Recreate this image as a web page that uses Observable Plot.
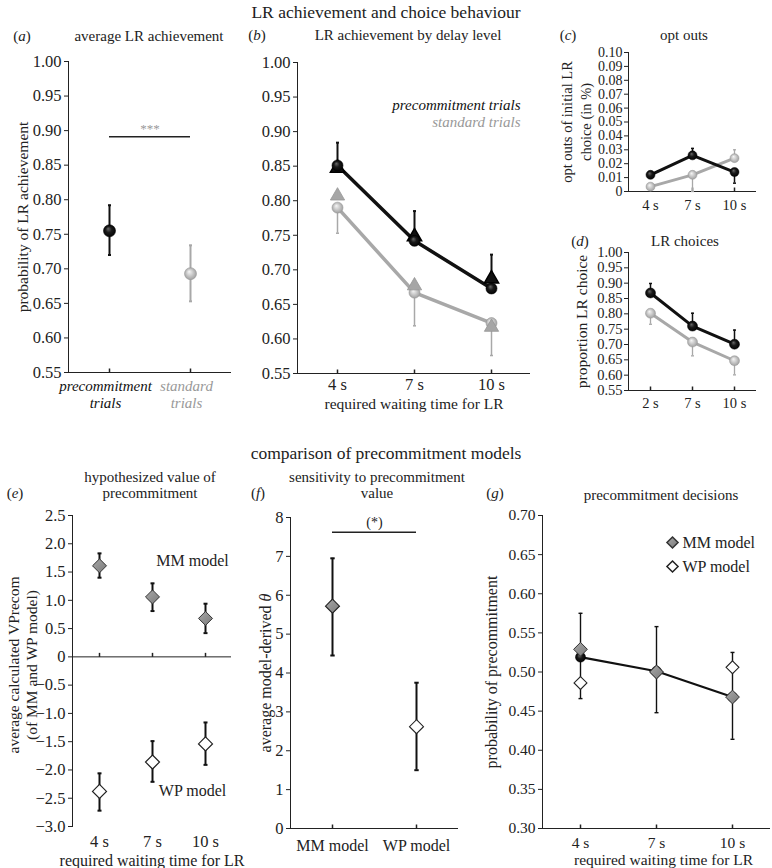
<!DOCTYPE html>
<html><head><meta charset="utf-8">
<script src="https://cdn.jsdelivr.net/npm/d3@7"></script>
<script src="https://cdn.jsdelivr.net/npm/@observablehq/plot@0.6"></script>
<style>
body{margin:0;background:#fff;}
#fig{position:relative;width:772px;height:868px;font-family:"Liberation Serif","Times New Roman",serif;color:#222;overflow:hidden;background:#fff;}
#fig svg{font-family:"Liberation Serif","Times New Roman",serif;overflow:visible;background:transparent;}
#fig svg text, #fig svg tspan{font-family:"Liberation Serif","Times New Roman",serif !important;}
.t{position:absolute;white-space:nowrap;transform:translate(-50%,-50%);line-height:16px;text-align:center;}
</style></head><body>
<svg width="0" height="0" style="position:absolute">
<defs>
<radialGradient id="ballBlack" cx="0.5" cy="0.5" r="0.55" fx="0.38" fy="0.32">
<stop offset="0" stop-color="#6a6a6a"/><stop offset="0.45" stop-color="#1a1a1a"/><stop offset="1" stop-color="#000"/>
</radialGradient>
<radialGradient id="ballGray" cx="0.5" cy="0.5" r="0.55" fx="0.38" fy="0.32">
<stop offset="0" stop-color="#f6f6f6"/><stop offset="0.5" stop-color="#c9c9c9"/><stop offset="1" stop-color="#9a9a9a"/>
</radialGradient>
<linearGradient id="diaGray" x1="0" y1="0" x2="1" y2="1">
<stop offset="0" stop-color="#a8a8a8"/><stop offset="1" stop-color="#7a7a7a"/>
</linearGradient>
</defs></svg>
<div id="fig"></div>
<script>
// ---------------- DATA ----------------
// (a) average LR achievement
const aTrials = ["precommitment", "standard"];
const aTrialLabels = ["precommitment\ntrials", "standard\ntrials"];
const aMean = [0.755, 0.693];
const aLow = [0.720, 0.653];
const aHigh = [0.792, 0.734];
const aSig = 0.891;
const aTicks = [0.55, 0.60, 0.65, 0.70, 0.75, 0.80, 0.85, 0.90, 0.95, 1.00];

// (b) LR achievement by delay level
const delays = ["4 s", "7 s", "10 s"];
const bPreCircle = [0.851, 0.742, 0.673];
const bPreTriangle = [0.847, 0.748, 0.687];
const bPreErrTop = [0.884, 0.785, 0.722];
const bStdCircle = [0.790, 0.667, 0.623];
const bStdTriangle = [0.807, 0.677, 0.617];
const bStdErrBottom = [0.753, 0.619, 0.576];

// (c) opt outs
const cTicks = [0, 0.01, 0.02, 0.03, 0.04, 0.05, 0.06, 0.07, 0.08, 0.09, 0.10];
const cPre = [0.012, 0.026, 0.014];
const cPreErrEnd = [0.012, 0.031, 0.006];
const cStd = [0.0035, 0.012, 0.024];
const cStdErrEnd = [0.0035, 0.000, 0.030];

// (d) LR choices
const dDelays = ["2 s", "7 s", "10 s"];
const dPre = [0.868, 0.760, 0.701];
const dPreErrTop = [0.899, 0.802, 0.747];
const dStd = [0.802, 0.708, 0.647];
const dStdErrBottom = [0.766, 0.663, 0.601];

// (e) hypothesized value of precommitment
const eTicks = [2.5, 2.0, 1.5, 1.0, 0.5, 0, -0.5, -1.0, -1.5, -2.0, -2.5, -3.0];
const eMM = [1.61, 1.06, 0.68];
const eMMLow = [1.40, 0.81, 0.42];
const eMMHigh = [1.83, 1.30, 0.94];
const eWP = [-2.38, -1.86, -1.54];
const eWPLow = [-2.72, -2.21, -1.91];
const eWPHigh = [-2.06, -1.49, -1.16];

// (f) sensitivity to precommitment value
const fModels = ["MM model", "WP model"];
const fTicks = [0, 1, 2, 3, 4, 5, 6, 7, 8];
const fMean = [5.72, 2.62];
const fLow = [4.45, 1.50];
const fHigh = [6.95, 3.75];
const fSig = 7.62;

// (g) precommitment decisions
const gTicks = [0.30, 0.35, 0.40, 0.45, 0.50, 0.55, 0.60, 0.65, 0.70];
const gObserved = [0.519, 0.501, 0.468];
const gLow = [0.466, 0.448, 0.414];
const gHigh = [0.575, 0.558, 0.525];
const gMM = [0.529, 0.500, 0.468];
const gWP = [0.486, 0.500, 0.506];

// ---------------- STYLE ----------------
const FONT = "Liberation Serif";
const INK = "#222";
const BLACK = "#111";
const GRAY = "#a8a8a8";
const GRAYTXT = "#999";
const BALL_BLACK = "url(#ballBlack)";
const BALL_GRAY = "url(#ballGray)";
const MMFILL = "url(#diaGray)";
const UP_TICK = {draw(ctx) { ctx.moveTo(0, 0); ctx.lineTo(0, -4); }};
const capSym = w => ({draw(ctx) { ctx.moveTo(-w, 0); ctx.lineTo(w, 0); }});

const fig = document.getElementById("fig");
function mount(b, node) {
  node.style.position = "absolute";
  node.style.left = b.left + "px";
  node.style.top = b.top + "px";
  node.style.fontFamily = FONT;
  node.style.fontSize = b.font + "px";
  node.style.color = INK;
  node.style.overflow = "visible";
  node.setAttribute("font-family", FONT);
  node.setAttribute("font-size", b.font);
  fig.appendChild(node);
}
function label(html, x, y, size = 15, color) {
  const d = document.createElement("div");
  d.className = "t";
  d.innerHTML = html;
  d.style.left = x + "px";
  d.style.top = y + "px";
  d.style.fontSize = size + "px";
  if (color) d.style.color = color;
  fig.appendChild(d);
}
function base(b, xDomain, yDomain) {
  return {
    width: b.width, height: b.height,
    marginLeft: b.x0 - b.left, marginRight: b.left + b.width - b.x1,
    marginTop: b.y0 - b.top, marginBottom: b.top + b.height - b.y1,
    x: {type: "point", domain: xDomain, padding: 0.5, axis: null},
    y: {domain: yDomain, axis: null}
  };
}
// free-standing text placed relative to the frame
function note(str, o) {
  return Plot.text([str], {text: d => d, textAnchor: "middle", lineAnchor: "middle", fontFamily: FONT, ...o});
}
function yAxis(ticks, tickFormat, pad = 3) {
  return Plot.axisY({ticks, tickFormat, tickSize: 4, tickPadding: pad, label: null, fontFamily: FONT});
}
function xAxis(pad, extra = {}) {
  return Plot.axisX({tickSize: 0, tickPadding: pad, label: null, fontFamily: FONT, ...extra});
}
// error bar from y1 to y2 with a cap at y2
function errBars(rows, x, y1, y2, stroke, w, cap) {
  return [
    Plot.ruleX(rows, {x, y1, y2, stroke, strokeWidth: w}),
    Plot.dot(rows, {x, y: y2, symbol: capSym(cap), stroke, strokeWidth: w, fill: "none"})
  ];
}
function capAt(rows, x, y, stroke, w, cap) {
  return Plot.dot(rows, {x, y, symbol: capSym(cap), stroke, strokeWidth: w, fill: "none"});
}
const fmt2 = d3.format(".2f");
const fmt1 = d3.format(".1f");

// ---------------- (a) ----------------
const A = {left: 0, top: 45, width: 245, height: 370, x0: 68, x1: 231, y0: 61, y1: 372, font: 16.5};
const aRows = aTrials.map((trial, i) => ({trial, mean: aMean[i], low: aLow[i], high: aHigh[i]}));
const aInk = d => d.trial === aTrials[0] ? BLACK : GRAY;
mount(A, Plot.plot({...base(A, aTrials, [0.55, 1.00]), marks: [
  Plot.frame({anchor: "left", stroke: INK}),
  Plot.ruleY([0.55], {stroke: INK}),
  yAxis(aTicks, fmt2),
  Plot.dot(aTrials, {x: d => d, y: 0.55, symbol: UP_TICK, stroke: INK, fill: "none"}),
  Plot.text(aTrials, {x: d => d, text: (d, i) => aTrialLabels[i], frameAnchor: "bottom", dy: 6, dx: -4, textAnchor: "middle",
    lineAnchor: "top", lineHeight: 1.15, fontStyle: "italic", fontSize: 15, fontFamily: FONT,
    fill: d => d === aTrials[0] ? BLACK : GRAYTXT}),
  Plot.ruleX(aRows, {x: "trial", y1: "low", y2: "high", stroke: aInk, strokeWidth: 2}),
  capAt(aRows, "trial", "low", aInk, 2, 1.5),
  capAt(aRows, "trial", "high", aInk, 2, 1.5),
  Plot.dot(aRows, {x: "trial", y: "mean", r: 6, fill: d => d.trial === aTrials[0] ? BALL_BLACK : BALL_GRAY,
    stroke: d => d.trial === aTrials[0] ? "#000" : "#999", strokeWidth: 0.6}),
  Plot.ruleY([aSig], {x1: () => aTrials[0], x2: () => aTrials[1], stroke: INK, strokeWidth: 1.5}),
  note("***", {frameAnchor: "middle", y: aSig, dy: -8, fill: GRAYTXT, fontSize: 13}),
  note("probability of LR achievement", {frameAnchor: "left", dx: -45, rotate: -90, fontSize: 15.5})
]}));

// ---------------- (b) ----------------
const B = {left: 245, top: 45, width: 290, height: 370, x0: 297, x1: 530, y0: 62, y1: 373, font: 16.5};
const bRows = delays.map((delay, i) => ({delay, preC: bPreCircle[i], preT: bPreTriangle[i], preE: bPreErrTop[i],
  stdC: bStdCircle[i], stdT: bStdTriangle[i], stdE: bStdErrBottom[i]}));
mount(B, Plot.plot({...base(B, delays, [0.55, 1.00]), marks: [
  Plot.frame({anchor: "left", stroke: INK}),
  Plot.ruleY([0.55], {stroke: INK}),
  yAxis(aTicks, fmt2),
  Plot.dot(delays, {x: d => d, y: 0.55, symbol: UP_TICK, stroke: INK, fill: "none"}),
  xAxis(5),
  note("required waiting time for LR", {frameAnchor: "bottom", dy: 31, fontSize: 15.5}),
  Plot.line(bRows, {x: "delay", y: "stdC", stroke: GRAY, strokeWidth: 3.5}),
  ...errBars(bRows, "delay", "stdC", "stdE", GRAY, 1.5, 1.5),
  Plot.dot(bRows, {x: "delay", y: "stdC", r: 5.5, fill: BALL_GRAY, stroke: "#999", strokeWidth: 0.6}),
  Plot.dot(bRows, {x: "delay", y: "stdT", r: 5.3, symbol: "triangle", fill: "#a6a6a6", stroke: "#959595", strokeWidth: 0.8}),
  Plot.line(bRows, {x: "delay", y: "preC", stroke: BLACK, strokeWidth: 3.5}),
  ...errBars(bRows, "delay", "preC", "preE", BLACK, 2, 1.5),
  Plot.dot(bRows, {x: "delay", y: "preT", r: 5.3, symbol: "triangle", fill: BLACK, stroke: "#000"}),
  Plot.dot(bRows, {x: "delay", y: "preC", r: 5.5, fill: BALL_BLACK, stroke: "#000", strokeWidth: 0.6}),
  note("precommitment trials", {frameAnchor: "top-right", dx: -10, dy: 43, textAnchor: "end",
    fontStyle: "italic", fontSize: 15, fill: BLACK}),
  note("standard trials", {frameAnchor: "top-right", dx: -10, dy: 60, textAnchor: "end",
    fontStyle: "italic", fontSize: 15, fill: GRAYTXT})
]}));

// ---------------- (c) ----------------
const C = {left: 540, top: 45, width: 232, height: 175, x0: 628, x1: 756, y0: 52, y1: 191, font: 14};
const cRows = delays.map((delay, i) => ({delay, pre: cPre[i], preE: cPreErrEnd[i], std: cStd[i], stdE: cStdErrEnd[i]}));
mount(C, Plot.plot({...base(C, delays, [0, 0.10]), marks: [
  Plot.frame({anchor: "left", stroke: INK}),
  Plot.ruleY([0], {stroke: INK}),
  yAxis(cTicks, d => d === 0 ? "0" : fmt2(d), 2),
  Plot.dot(delays, {x: d => d, y: 0, symbol: UP_TICK, stroke: INK, fill: "none"}),
  xAxis(8, {fontSize: 14.5}),
  note("opt outs of initial LR\nchoice (in %)", {frameAnchor: "left", dx: -53, rotate: -90, fontSize: 14.5, lineHeight: 1.3}),
  Plot.line(cRows, {x: "delay", y: "std", stroke: GRAY, strokeWidth: 3}),
  ...errBars(cRows, "delay", "std", "stdE", GRAY, 1.3, 1.5),
  Plot.line(cRows, {x: "delay", y: "pre", stroke: BLACK, strokeWidth: 3}),
  ...errBars(cRows, "delay", "pre", "preE", BLACK, 1.5, 1.5),
  Plot.dot(cRows, {x: "delay", y: "std", r: 4.5, fill: BALL_GRAY, stroke: "#999", strokeWidth: 0.5}),
  Plot.dot(cRows, {x: "delay", y: "pre", r: 4.5, fill: BALL_BLACK, stroke: "#000", strokeWidth: 0.5})
]}));

// ---------------- (d) ----------------
const D = {left: 540, top: 245, width: 232, height: 175, x0: 628, x1: 756, y0: 252, y1: 390, font: 14.5};
const dRows = dDelays.map((delay, i) => ({delay, pre: dPre[i], preE: dPreErrTop[i], std: dStd[i], stdE: dStdErrBottom[i]}));
mount(D, Plot.plot({...base(D, dDelays, [0.55, 1.00]), marks: [
  Plot.frame({anchor: "left", stroke: INK}),
  Plot.ruleY([0.55], {stroke: INK}),
  yAxis(aTicks, fmt2, 2),
  Plot.dot(dDelays, {x: d => d, y: 0.55, symbol: UP_TICK, stroke: INK, fill: "none"}),
  xAxis(7),
  note("proportion LR choice", {frameAnchor: "left", dx: -46, rotate: -90, fontSize: 15.5}),
  Plot.line(dRows, {x: "delay", y: "std", stroke: GRAY, strokeWidth: 3}),
  ...errBars(dRows, "delay", "std", "stdE", GRAY, 1.3, 1.5),
  Plot.line(dRows, {x: "delay", y: "pre", stroke: BLACK, strokeWidth: 3}),
  ...errBars(dRows, "delay", "pre", "preE", BLACK, 1.5, 1.5),
  Plot.dot(dRows, {x: "delay", y: "std", r: 5, fill: BALL_GRAY, stroke: "#999", strokeWidth: 0.5}),
  Plot.dot(dRows, {x: "delay", y: "pre", r: 5, fill: BALL_BLACK, stroke: "#000", strokeWidth: 0.5})
]}));

// ---------------- (e) ----------------
const E = {left: 0, top: 505, width: 245, height: 363, x0: 72, x1: 231, y0: 515, y1: 826, font: 16.5};
const eRows = delays.map((delay, i) => ({delay, mm: eMM[i], mmL: eMMLow[i], mmH: eMMHigh[i], wp: eWP[i], wpL: eWPLow[i], wpH: eWPHigh[i]}));
mount(E, Plot.plot({...base(E, delays, [-3, 2.5]), marks: [
  Plot.frame({anchor: "left", stroke: INK}),
  Plot.ruleY([0], {stroke: INK}),
  yAxis(eTicks, d => d === 0 ? "0" : fmt1(d)),
  Plot.dot(delays, {x: d => d, y: 0, symbol: UP_TICK, stroke: INK, fill: "none"}),
  xAxis(9),
  note("required waiting time for LR", {frameAnchor: "bottom", dy: 34, fontSize: 16}),
  note("average calculated VPrecom\n(of MM and WP model)", {frameAnchor: "left", dx: -50, dy: -6,
    rotate: -90, fontSize: 15.5, lineHeight: 1.17}),
  ...errBars(eRows, "delay", "mmL", "mmH", BLACK, 2, 2),
  capAt(eRows, "delay", "mmL", BLACK, 2, 2),
  ...errBars(eRows, "delay", "wpL", "wpH", BLACK, 2, 2),
  capAt(eRows, "delay", "wpL", BLACK, 2, 2),
  Plot.dot(eRows, {x: "delay", y: "mm", r: 6.3, symbol: "diamond2", fill: MMFILL, stroke: "#333", strokeWidth: 1}),
  Plot.dot(eRows, {x: "delay", y: "wp", r: 6.3, symbol: "diamond2", fill: "#fff", stroke: "#222", strokeWidth: 1.2}),
  note("MM model", {frameAnchor: "top-right", dx: -39, dy: 45, fontSize: 16}),
  note("WP model", {frameAnchor: "bottom-right", dx: -39, dy: -36, fontSize: 16})
]}));

// ---------------- (f) ----------------
const F = {left: 245, top: 505, width: 250, height: 363, x0: 290, x1: 458, y0: 517, y1: 828, font: 16.5};
const fRows = fModels.map((model, i) => ({model, mean: fMean[i], low: fLow[i], high: fHigh[i]}));
const fPlot = Plot.plot({...base(F, fModels, [0, 8]), marks: [
  Plot.frame({anchor: "left", stroke: INK}),
  Plot.ruleY([0], {stroke: INK}),
  yAxis(fTicks, d => String(d)),
  Plot.dot(fModels, {x: d => d, y: 0, symbol: UP_TICK, stroke: INK, fill: "none"}),
  xAxis(11, {fontSize: 16}),
  note("average model-derived θ", {frameAnchor: "left", dx: -25, rotate: -90, fontSize: 16}),
  ...errBars(fRows, "model", "low", "high", BLACK, 2, 2.2),
  capAt(fRows, "model", "low", BLACK, 2, 2.2),
  Plot.dot(fRows, {x: "model", y: "mean", r: 6.3, symbol: "diamond2",
    fill: d => d.model === fModels[0] ? MMFILL : "#fff", stroke: "#222", strokeWidth: 1.1}),
  Plot.ruleY([fSig], {x1: () => fModels[0], x2: () => fModels[1], stroke: INK, strokeWidth: 1.5}),
  note("(*)", {frameAnchor: "middle", y: fSig, dy: -10, fontSize: 14})
]});
fPlot.querySelectorAll("text").forEach(t => {
  if (t.textContent === "average model-derived θ") t.innerHTML = "average model-derived <tspan font-style=\"italic\">θ</tspan>";
});
mount(F, fPlot);

// ---------------- (g) ----------------
const G = {left: 495, top: 505, width: 277, height: 363, x0: 542, x1: 770, y0: 515, y1: 828, font: 15.5};
const gRows = delays.map((delay, i) => ({delay, obs: gObserved[i], low: gLow[i], high: gHigh[i], mm: gMM[i], wp: gWP[i]}));
mount(G, Plot.plot({...base(G, delays, [0.30, 0.70]), marks: [
  Plot.frame({anchor: "left", stroke: INK}),
  Plot.ruleY([0.30], {stroke: INK}),
  yAxis(gTicks, fmt2),
  Plot.dot(delays, {x: d => d, y: 0.30, symbol: UP_TICK, stroke: INK, fill: "none"}),
  xAxis(8),
  note("required waiting time for LR", {frameAnchor: "bottom", dx: 7, dy: 32, fontSize: 15.5}),
  note("probability of precommitment", {frameAnchor: "left", dx: -51, rotate: -90, fontSize: 16}),
  ...errBars(gRows, "delay", "low", "high", BLACK, 1.4, 2),
  capAt(gRows, "delay", "low", BLACK, 1.4, 2),
  Plot.line(gRows, {x: "delay", y: "obs", stroke: BLACK, strokeWidth: 2.2}),
  Plot.dot(gRows, {x: "delay", y: "obs", r: 5, fill: BALL_BLACK, stroke: "#000", strokeWidth: 0.5}),
  Plot.dot(gRows, {x: "delay", y: "wp", r: 5.8, symbol: "diamond2", fill: "#fff", stroke: "#222", strokeWidth: 1.1}),
  Plot.dot(gRows, {x: "delay", y: "mm", r: 6.2, symbol: "diamond2", fill: MMFILL, stroke: "#333", strokeWidth: 1}),
  Plot.dot(["MM model"], {frameAnchor: "top-right", dx: -98, dy: 27, r: 5, symbol: "diamond2", fill: MMFILL, stroke: "#333"}),
  note("MM model", {frameAnchor: "top-right", dx: -88, dy: 27, textAnchor: "start", fontSize: 16}),
  Plot.dot(["WP model"], {frameAnchor: "top-right", dx: -98, dy: 51, r: 5, symbol: "diamond2", fill: "#fff", stroke: "#222"}),
  note("WP model", {frameAnchor: "top-right", dx: -88, dy: 51, textAnchor: "start", fontSize: 16})
]}));

// ---------------- titles ----------------
label("LR achievement and choice behaviour", 386, 12, 17.5);
label("(<i>a</i>)", 22, 36);
label("average LR achievement", 149, 36);
label("(<i>b</i>)", 257, 35);
label("LR achievement by delay level", 408, 35);
label("(<i>c</i>)", 568, 35);
label("opt outs", 684, 35);
label("(<i>d</i>)", 580, 241);
label("LR choices", 685, 241);
label("comparison of precommitment models", 386, 453, 17.5);
label("(<i>e</i>)", 15, 493);
label("hypothesized value of<br>precommitment", 150, 485);
label("(<i>f</i>)", 258, 493);
label("sensitivity to precommitment<br>value", 377, 485);
label("(<i>g</i>)", 495, 493);
label("precommitment decisions", 661, 495);
</script>
</body></html>
